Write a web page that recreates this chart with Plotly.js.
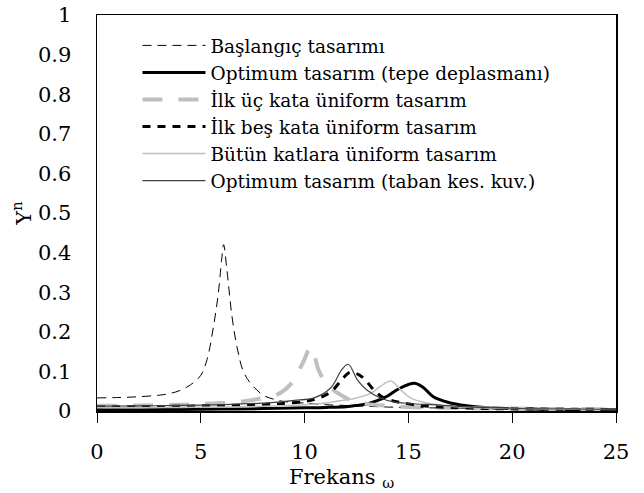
<!DOCTYPE html>
<html>
<head>
<meta charset="utf-8">
<script src="https://cdn.plot.ly/plotly-3.0.1.min.js"></script>
<style>html,body{margin:0;padding:0;background:#fff;}</style>
</head>
<body>
<div id="chart" style="width:644px;height:493px;"></div>
<script>
// Series names (legend)
const seriesNames = [
  "Başlangıç tasarımı",
  "Optimum tasarım (tepe deplasmanı)",
  "İlk üç kata üniform tasarım",
  "İlk beş kata üniform tasarım",
  "Bütün katlara üniform tasarım",
  "Optimum tasarım (taban kes. kuv.)"
];
const xTitle = "Frekans <sub>ω</sub>";
const yTitle = "Y<sup>n</sup>";

// Başlangıç tasarımı
const x1 = [0,1,2,3,3.5,4,4.5,5,5.3,5.6,5.85,6.0,6.1,6.25,6.5,6.75,7.05,7.4,8.0,8.5,9,10,11,12,13,14,16,18,20,22,25];
const y1 = [0.033,0.034,0.036,0.040,0.044,0.052,0.066,0.09,0.13,0.21,0.30,0.38,0.42,0.36,0.24,0.16,0.10,0.07,0.04,0.03,0.024,0.02,0.016,0.014,0.012,0.01,0.008,0.007,0.006,0.005,0.004];

// Optimum tasarım (tepe deplasmanı)
const x2 = [0,2,4,6,8,10,11,12,12.5,13,13.5,14,14.5,15,15.3,15.7,16.2,16.9,17.8,18.8,20,21,22,25];
const y2 = [0.003,0.003,0.004,0.005,0.006,0.008,0.009,0.011,0.014,0.018,0.026,0.038,0.055,0.067,0.07,0.06,0.036,0.022,0.013,0.008,0.006,0.005,0.004,0.003];

// İlk üç kata üniform tasarım
const x3 = [0,2,4,6,7,7.5,8,8.7,9.3,9.9,10.3,10.7,11.1,11.6,12.2,13,14,15,17,20,25];
const y3 = [0.013,0.014,0.016,0.02,0.024,0.028,0.033,0.042,0.066,0.12,0.16,0.10,0.066,0.045,0.028,0.018,0.013,0.01,0.008,0.006,0.004];

// İlk beş kata üniform tasarım
const x4 = [0,2,4,6,8,9,10,10.5,11,11.4,11.8,12.2,12.6,12.9,13.3,13.75,14.3,14.8,15.7,17,19,25];
const y4 = [0.01,0.011,0.012,0.014,0.016,0.019,0.024,0.03,0.04,0.055,0.08,0.098,0.092,0.08,0.055,0.035,0.025,0.02,0.013,0.009,0.006,0.004];

// Bütün katlara üniform tasarım
const x5 = [0,2,4,6,8,10,11,11.7,12.5,13.2,13.65,14.15,14.6,15.1,15.9,17,18,20,25];
const y5 = [0.008,0.008,0.009,0.01,0.012,0.016,0.02,0.026,0.033,0.045,0.062,0.076,0.055,0.033,0.02,0.012,0.009,0.006,0.004];

// Optimum tasarım (taban kes. kuv.)
const x6 = [0,2,4,6,8,8.8,9.5,10.45,11.25,11.8,12.1,12.55,13,13.65,14.3,15,16.5,18,20,25];
const y6 = [0.012,0.013,0.014,0.016,0.02,0.023,0.027,0.033,0.058,0.105,0.118,0.078,0.053,0.033,0.023,0.019,0.015,0.01,0.007,0.004];

const FONT = "DejaVu Serif";

const traces = [
  {x:x1, y:y1, name:seriesNames[0], mode:"lines", line:{color:"#000", width:1, dash:"9px,6px", shape:"spline"}},
  {x:x2, y:y2, name:seriesNames[1], mode:"lines", line:{color:"#000", width:3, shape:"spline"}},
  {x:x3, y:y3, name:seriesNames[2], mode:"lines", line:{color:"#bfbfbf", width:4, dash:"20px,16px", shape:"spline"}},
  {x:x4, y:y4, name:seriesNames[3], mode:"lines", line:{color:"#000", width:3, dash:"8px,7px", shape:"spline"}},
  {x:x5, y:y5, name:seriesNames[4], mode:"lines", line:{color:"#bfbfbf", width:1.5, shape:"spline"}},
  {x:x6, y:y6, name:seriesNames[5], mode:"lines", line:{color:"#404040", width:1.2, shape:"spline"}}
];

const layout = {
  width:644, height:493,
  margin:{l:97, r:28, t:15, b:82, pad:0},
  paper_bgcolor:"#fff", plot_bgcolor:"#fff",
  font:{family:FONT, color:"#000", size:21},
  showlegend:true,
  legend:{x:0.078, y:0.97, xanchor:"left", yanchor:"top", bgcolor:"rgba(0,0,0,0)",
          font:{family:FONT, size:18.5, color:"#000"}, itemwidth:63, tracegroupgap:0},
  xaxis:{range:[0,25], tick0:0, dtick:5, ticks:"outside", ticklen:10, tickwidth:1, tickcolor:"#000",
         showline:true, mirror:true, linecolor:"#000", linewidth:1.5, showgrid:false, zeroline:false,
         tickfont:{family:FONT, size:21, color:"#000"}, ticklabelstandoff:11},
  yaxis:{range:[0,1], tick0:0, dtick:0.1, ticks:"", showline:true, mirror:true, linecolor:"#000", linewidth:1.5,
         showgrid:false, zeroline:false, tickfont:{family:FONT, size:21, color:"#000"}, ticklabelstandoff:20,
         title:{text:yTitle, font:{family:FONT, size:21, color:"#000"}, standoff:0}},
  annotations:[
    {text:xTitle, xref:"paper", yref:"paper", x:0.366, y:-0.17, xanchor:"left", yanchor:"middle",
     showarrow:false, font:{family:FONT, size:21, color:"#000"}}
  ]
};

Plotly.newPlot("chart", traces, layout, {staticPlot:true, displayModeBar:false});
</script>
</body>
</html>
